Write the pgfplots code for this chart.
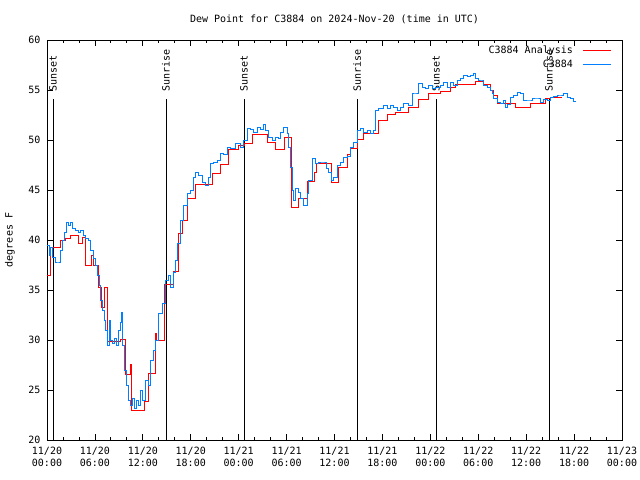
\documentclass[border=0pt]{standalone}
\usepackage{fontspec}
\setmainfont{DejaVu Sans Mono}
\usepackage{pgfplots}
\pgfplotsset{compat=1.18}
\definecolor{obsblue}{RGB}{0,128,255}
\definecolor{anred}{RGB}{255,0,0}
\newcommand{\gfont}{\fontsize{10bp}{12bp}\selectfont}
\begin{document}
\begin{tikzpicture}[font=\gfont]
\begin{axis}[
  name=main,
  scale only axis, width=575bp, height=400bp,
  xmin=0, xmax=72, ymin=20, ymax=60,
  xtick={0,6,...,72}, minor xtick={0,2,...,72},
  xticklabels={{11/20\\00:00},{11/20\\06:00},{11/20\\12:00},{11/20\\18:00},{11/21\\00:00},{11/21\\06:00},{11/21\\12:00},{11/21\\18:00},{11/22\\00:00},{11/22\\06:00},{11/22\\12:00},{11/22\\18:00},{11/23\\00:00}},
  xticklabel style={align=center, yshift=-4bp, font=\gfont},
  ytick={20,25,...,60},
  yticklabel style={xshift=-3bp, font=\gfont},
  /pgf/number format/assume math mode=true,
  tick align=inside, major tick length=6bp, minor tick length=3bp,
  tick style={black, line width=0.8bp},
  axis line style={black, line width=0.8bp},
  legend style={at={(1,1)}, anchor=north east, xshift=-10bp, yshift=-4bp, draw=none, fill=none, font=\gfont, row sep=1bp, inner sep=0pt},
  legend cell align=right,
  legend plot pos=right,
  legend image code/.code={\path (0bp,0bp); \draw[#1] (8bp,0bp) -- (36bp,0bp);},
]
% sunrise / sunset lines
\addplot[black, line width=0.8bp, forget plot] coordinates {(0.75,20) (0.75,54.1)};
\addplot[black, line width=0.8bp, forget plot] coordinates {(14.90,20) (14.90,54.1)};
\addplot[black, line width=0.8bp, forget plot] coordinates {(24.67,20) (24.67,54.1)};
\addplot[black, line width=0.8bp, forget plot] coordinates {(38.82,20) (38.82,54.1)};
\addplot[black, line width=0.8bp, forget plot] coordinates {(48.71,20) (48.71,54.1)};
\addplot[black, line width=0.8bp, forget plot] coordinates {(62.86,20) (62.86,54.1)};
\node[rotate=90, anchor=west, inner sep=0pt] at (axis cs:0.75,54.8) {Sunset};
\node[rotate=90, anchor=west, inner sep=0pt] at (axis cs:14.90,54.8) {Sunrise};
\node[rotate=90, anchor=west, inner sep=0pt] at (axis cs:24.67,54.8) {Sunset};
\node[rotate=90, anchor=west, inner sep=0pt] at (axis cs:38.82,54.8) {Sunrise};
\node[rotate=90, anchor=west, inner sep=0pt] at (axis cs:48.71,54.8) {Sunset};
\node[rotate=90, anchor=west, inner sep=0pt] at (axis cs:62.86,54.8) {Sunrise};
% analysis
\addplot[anred, line width=0.9bp, const plot] coordinates {
(0,36.5) (0.38,39.3) (1.63,40.0) (2.25,40.2) (2.88,40.5) (3.88,39.7) (4.38,40.3) (4.76,37.5) (5.51,38.5) (5.76,37.5) (6.39,35.3) (6.76,33.3) (7.14,35.3) (7.51,29.9) (9.14,30.1) (9.77,26.6) (10.39,27.6) (10.52,23.0) (12.15,23.9) (12.65,26.7) (13.52,30.7) (13.65,30.0) (14.65,35.6) (15.78,36.9) (16.40,40.7) (16.90,42.0) (17.53,44.2) (18.53,45.6) (20.66,46.7) (21.66,47.6) (22.66,49.1) (23.92,49.5) (24.67,49.7) (25.67,50.6) (27.55,49.8) (28.55,49.1) (29.68,50.3) (30.55,43.3) (31.43,44.2) (32.56,45.9) (33.43,46.8) (33.68,47.7) (35.56,45.8) (36.44,47.3) (37.57,48.6) (37.94,49.2) (38.82,50.1) (39.57,50.7) (41.45,52.0) (42.57,52.6) (43.58,52.8) (45.20,53.3) (46.46,54.1) (47.71,54.7) (49.21,54.9) (50.46,55.3) (51.09,55.6) (53.59,55.9) (54.60,55.6) (55.47,55.0) (55.85,54.5) (56.35,53.7) (58.60,53.3) (60.48,53.7) (62.36,54.2) (62.99,54.3) (64.49,54.3)
};
\addlegendentry{C3884 Analysis}
% observations
\addplot[obsblue, line width=0.9bp, const plot] coordinates {
(0.00,39.5) (0.25,38.5) (0.38,39.3) (0.63,38.3) (1.00,37.8) (1.38,37.8) (1.63,39.0) (1.88,40.0) (2.13,40.8) (2.38,41.8) (2.63,41.5) (2.88,41.8) (3.13,41.2) (3.51,41.0) (3.88,40.8) (4.13,41.0) (4.51,40.5) (4.76,40.2) (5.13,40.0) (5.38,39.0) (5.76,38.2) (6.01,37.5) (6.26,36.5) (6.51,35.5) (6.64,34.0) (6.89,33.0) (7.14,32.0) (7.26,31.0) (7.51,29.5) (7.76,32.0) (7.89,30.0) (8.14,29.7) (8.39,30.2) (8.64,29.5) (8.89,31.0) (9.14,31.8) (9.27,32.8) (9.39,29.5) (9.64,27.0) (9.89,25.5) (10.14,24.0) (10.39,23.5) (10.64,24.2) (10.89,23.2) (11.14,24.0) (11.40,23.5) (11.65,25.0) (11.90,24.0) (12.27,26.0) (12.65,25.5) (12.90,28.0) (13.27,29.0) (13.52,30.0) (13.90,32.7) (14.40,33.7) (14.78,36.0) (15.15,36.5) (15.40,35.3) (15.78,36.8) (16.03,38.0) (16.28,39.7) (16.65,42.0) (17.03,43.5) (17.53,44.7) (17.91,45.0) (18.28,46.3) (18.53,46.8) (18.91,46.5) (19.41,45.8) (19.78,45.5) (20.16,46.3) (20.41,47.7) (20.79,47.8) (21.29,48.0) (21.66,48.7) (22.04,48.6) (22.54,49.3) (22.92,49.2) (23.54,49.7) (24.17,49.3) (24.54,50.0) (25.04,51.2) (25.42,51.1) (25.80,50.8) (26.30,51.3) (26.67,51.1) (27.05,51.6) (27.30,51.0) (27.67,50.3) (28.17,50.0) (28.55,50.3) (28.93,50.2) (29.18,50.8) (29.55,51.3) (30.05,50.7) (30.18,49.3) (30.43,47.3) (30.68,45.0) (30.81,44.0) (31.06,45.2) (31.43,44.8) (31.68,44.2) (32.06,43.5) (32.56,44.7) (32.68,46.0) (33.18,48.2) (33.56,47.7) (33.93,47.8) (34.56,47.8) (34.94,47.2) (35.19,46.8) (35.56,46.0) (35.81,46.3) (36.31,47.5) (36.69,47.8) (37.07,48.3) (37.57,48.4) (37.94,49.3) (38.32,49.8) (38.82,51.0) (39.19,51.2) (39.57,50.8) (40.07,51.0) (40.45,50.7) (40.82,51.0) (41.07,53.0) (41.45,53.2) (42.07,53.5) (42.57,53.2) (42.95,53.5) (43.33,53.3) (43.83,53.0) (44.20,53.3) (44.58,53.7) (45.20,53.5) (45.71,54.7) (46.08,54.7) (46.46,55.7) (46.96,55.3) (47.33,55.2) (47.71,55.5) (48.21,55.2) (48.59,55.3) (49.21,55.5) (49.59,55.8) (50.09,55.3) (50.46,55.8) (50.84,55.5) (51.34,56.0) (51.71,56.2) (52.09,56.5) (52.59,56.4) (52.97,56.5) (53.34,56.7) (53.59,56.2) (53.97,56.0) (54.47,56.0) (54.60,55.5) (55.10,55.3) (55.47,55.0) (55.72,54.7) (55.85,54.2) (56.35,53.8) (56.72,53.7) (57.10,54.0) (57.35,53.3) (57.60,53.6) (57.98,54.3) (58.35,54.5) (58.85,54.8) (59.23,54.7) (59.60,54.0) (60.48,54.0) (60.73,54.2) (61.36,54.2) (61.73,53.8) (62.11,54.1) (62.61,54.0) (62.99,54.3) (63.36,54.4) (63.86,54.5) (64.24,54.5) (64.61,54.7) (65.11,54.3) (65.49,54.2) (65.87,53.9) (66.12,53.8)
};
\addlegendentry{C3884}
\end{axis}
\node at ([yshift=21bp]main.north) {Dew Point for C3884 on 2024-Nov-20 (time in UTC)};
\node[rotate=90] at ([xshift=-37bp]main.west) {degrees F};
\pgfresetboundingbox
\path[use as bounding box] ([xshift=-47bp,yshift=-40bp]main.south west) rectangle ([xshift=18bp,yshift=40bp]main.north east);
\end{tikzpicture}
\end{document}
